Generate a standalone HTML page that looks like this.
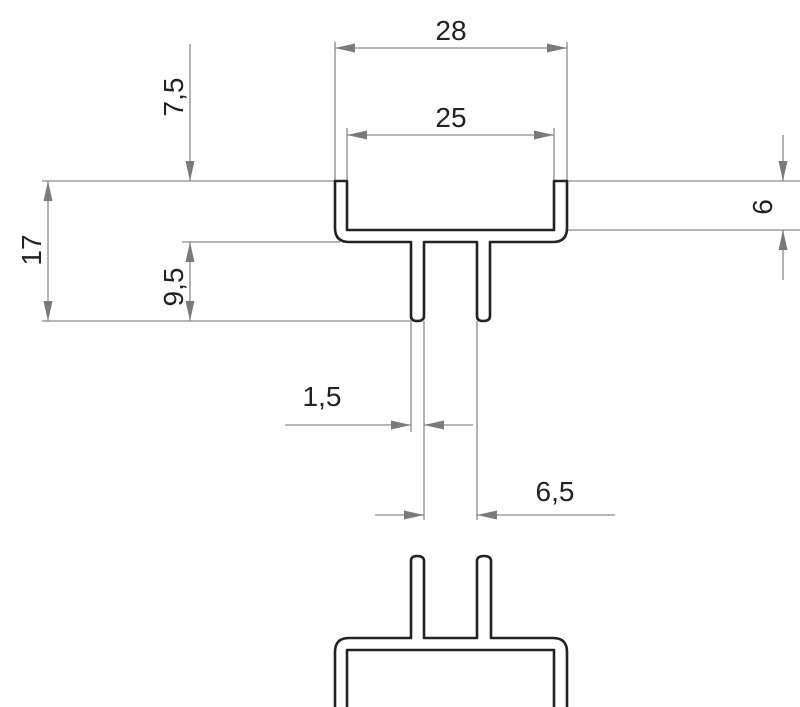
<!DOCTYPE html>
<html><head><meta charset="utf-8"><style>html,body{margin:0;padding:0;background:#fff}svg{display:block}</style></head><body>
<svg width="800" height="707" viewBox="0 0 800 707" xmlns="http://www.w3.org/2000/svg">
<defs>
<marker id="a" viewBox="0 0 20 9" refX="20" refY="4.5" markerWidth="20" markerHeight="9" markerUnits="userSpaceOnUse" orient="auto"><path d="M0,0 L20,4.5 L0,9 z" fill="#7a7a7a"/></marker>
</defs>
<g stroke="#8a8a8a" stroke-width="1.3" fill="none">
<line x1="335" y1="42" x2="335" y2="181"/><line x1="567" y1="42" x2="567" y2="181"/>
<line x1="347" y1="128" x2="347" y2="181"/><line x1="554" y1="128" x2="554" y2="181"/>
<line x1="42" y1="181" x2="335" y2="181"/><line x1="182" y1="242" x2="340" y2="242"/>
<line x1="42" y1="321" x2="411" y2="321"/>
<line x1="567" y1="181" x2="800" y2="181"/><line x1="567" y1="230" x2="800" y2="230"/>
<line x1="411" y1="321" x2="411" y2="432"/><line x1="424" y1="321" x2="424" y2="520"/>
<line x1="477" y1="321" x2="477" y2="520"/>
<line x1="451" y1="48" x2="335" y2="48" marker-end="url(#a)"/>
<line x1="451" y1="48" x2="567" y2="48" marker-end="url(#a)"/>
<line x1="451" y1="135" x2="554" y2="135" marker-end="url(#a)"/>
<line x1="451" y1="135" x2="347" y2="135" marker-end="url(#a)"/>
<line x1="190" y1="44" x2="190" y2="181" marker-end="url(#a)"/>
<line x1="190" y1="281" x2="190" y2="242" marker-end="url(#a)"/>
<line x1="190" y1="281" x2="190" y2="321" marker-end="url(#a)"/>
<line x1="48" y1="251" x2="48" y2="181" marker-end="url(#a)"/>
<line x1="48" y1="251" x2="48" y2="321" marker-end="url(#a)"/>
<line x1="783" y1="135" x2="783" y2="181" marker-end="url(#a)"/>
<line x1="783" y1="280" x2="783" y2="230" marker-end="url(#a)"/>
<line x1="285" y1="425" x2="411" y2="425" marker-end="url(#a)"/>
<line x1="473" y1="425" x2="424" y2="425" marker-end="url(#a)"/>
<line x1="375" y1="515" x2="424" y2="515" marker-end="url(#a)"/>
<line x1="615" y1="515" x2="477" y2="515" marker-end="url(#a)"/>
</g>
<g stroke="#222" stroke-width="2.6" fill="none" stroke-linejoin="round">
<path d="M335,181 V228 Q335,242 349,242 H411 V316 Q411,321 417,321 Q424,321 424,316 V242 H477 V316 Q477,321 483,321 Q490,321 490,316 V242 H553 Q567,242 567,228 V181 H554 V230 H347 V181 Z"/>
<path d="M335,707 V652 Q335,638 349,638 H411 V561 Q411,556 417,556 Q424,556 424,561 V638 H477 V561 Q477,556 484,556 Q491,556 491,561 V638 H553 Q567,638 567,652 V707 M554,707 V650 H347 V707"/>
</g>
<g font-family="Liberation Sans, sans-serif" font-size="28" fill="#222">
<text x="451" y="40" text-anchor="middle">28</text>
<text x="451" y="127" text-anchor="middle">25</text>
<text x="322" y="406" text-anchor="middle">1,5</text>
<text x="555" y="501" text-anchor="middle">6,5</text>
<text transform="translate(183,97) rotate(-90)" text-anchor="middle">7,5</text>
<text transform="translate(183,287) rotate(-90)" text-anchor="middle">9,5</text>
<text transform="translate(41,250) rotate(-90)" text-anchor="middle">17</text>
<text transform="translate(772,207) rotate(-90)" text-anchor="middle">6</text>
</g>
</svg>
</body></html>
